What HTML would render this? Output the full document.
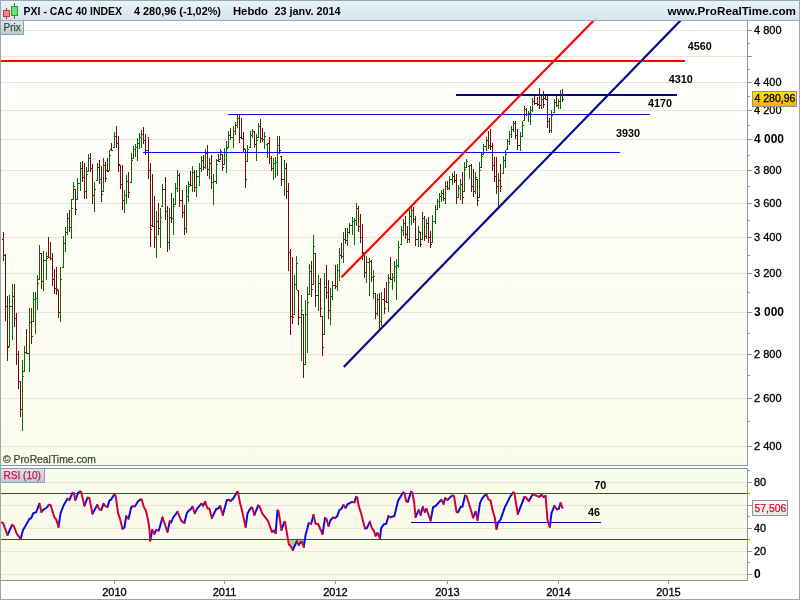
<!DOCTYPE html>
<html><head><meta charset="utf-8"><title>PXI - CAC 40 INDEX</title>
<style>html,body{margin:0;padding:0;background:#fff;}body{width:800px;height:600px;overflow:hidden;}svg{display:block;}text{font-family:"Liberation Sans", Arial, sans-serif;}text.n{stroke:#000;stroke-width:0.3px;}text.c{stroke:#33502e;stroke-width:0.25px;}text.r{stroke:#dc0a3a;stroke-width:0.25px;}</style>
</head><body>
<svg width="800" height="600" viewBox="0 0 800 600">
<defs>
<linearGradient id="hd" x1="0" y1="0" x2="0" y2="1"><stop offset="0" stop-color="#e9f5fb"/><stop offset="1" stop-color="#d3e2ec"/></linearGradient>
<linearGradient id="bg" x1="0" y1="0" x2="0" y2="1"><stop offset="0" stop-color="#ffffff"/><stop offset="1" stop-color="#fbfbec"/></linearGradient>
<linearGradient id="lb" x1="0" y1="0" x2="0" y2="1"><stop offset="0" stop-color="#dce8ee"/><stop offset="1" stop-color="#b8c8d1"/></linearGradient>
<linearGradient id="yl" x1="0" y1="0" x2="0" y2="1"><stop offset="0" stop-color="#ffe21a"/><stop offset="1" stop-color="#f2b200"/></linearGradient>
<linearGradient id="rl" x1="0" y1="0" x2="0" y2="1"><stop offset="0" stop-color="#fbfbf6"/><stop offset="1" stop-color="#ebebdf"/></linearGradient>
<clipPath id="cm"><rect x="1" y="21" width="746" height="444"/></clipPath>
<clipPath id="cr"><rect x="1" y="469" width="746" height="111"/></clipPath>
</defs>
<rect x="0" y="0" width="800" height="600" fill="#ffffff"/>
<rect x="0" y="0" width="800" height="21" fill="url(#hd)"/>
<rect x="0" y="0" width="800" height="1" fill="#97a6b1"/>
<rect x="0" y="20" width="800" height="1" fill="#9fabb3"/>
<rect x="1" y="21" width="747" height="445" fill="url(#bg)"/>
<rect x="1" y="446" width="747" height="1" fill="#e6e6da"/>
<rect x="1" y="398" width="747" height="1" fill="#e6e6da"/>
<rect x="1" y="354" width="747" height="1" fill="#e6e6da"/>
<rect x="1" y="312" width="747" height="1" fill="#e6e6da"/>
<rect x="1" y="273" width="747" height="1" fill="#e6e6da"/>
<rect x="1" y="237" width="747" height="1" fill="#e6e6da"/>
<rect x="1" y="203" width="747" height="1" fill="#e6e6da"/>
<rect x="1" y="170" width="747" height="1" fill="#e6e6da"/>
<rect x="1" y="139" width="747" height="1" fill="#e6e6da"/>
<rect x="1" y="110" width="747" height="1" fill="#e6e6da"/>
<rect x="1" y="82" width="747" height="1" fill="#e6e6da"/>
<rect x="1" y="56" width="747" height="1" fill="#e6e6da"/>
<rect x="1" y="30" width="747" height="1" fill="#e6e6da"/>
<rect x="1" y="468" width="747" height="113" fill="#fbfbec"/>
<rect x="1" y="574" width="747" height="1" fill="#e6e6da"/>
<rect x="1" y="551" width="747" height="1" fill="#e6e6da"/>
<rect x="1" y="528" width="747" height="1" fill="#e6e6da"/>
<rect x="1" y="505" width="747" height="1" fill="#e6e6da"/>
<rect x="1" y="482" width="747" height="1" fill="#e6e6da"/>
<g clip-path="url(#cm)">
<path d="M9.5 295V347M8 346.5h1M10 306.5h1M12.5 284V340M11 306.5h1M13 296.5h1M22.5 360V431M21 409.5h1M23 376.5h1M24.5 346V372M23 371.5h1M25 352.5h1M29.5 308V372M28 353.5h1M30 322.5h1M33.5 292V322M32 321.5h1M34 299.5h1M35.5 292V334M34 299.5h1M36 298.5h1M37.5 275V310M36 298.5h1M38 283.5h1M39.5 245V280M38 279.5h1M40 253.5h1M43.5 251V291M42 281.5h1M44 260.5h1M46.5 252V280M45 260.5h1M47 258.5h1M60.5 267V322M59 312.5h1M61 279.5h1M63.5 236V268M62 267.5h1M64 243.5h1M65.5 227V252M64 243.5h1M66 232.5h1M67.5 213V235M66 232.5h1M68 218.5h1M71.5 199V239M70 227.5h1M72 208.5h1M73.5 182V200M72 199.5h1M74 186.5h1M77.5 178V200M76 199.5h1M78 183.5h1M80.5 162V191M79 183.5h1M81 168.5h1M86.5 167V199M85 191.5h1M87 174.5h1M88.5 154V172M87 171.5h1M89 158.5h1M94.5 182V212M93 195.5h1M95 189.5h1M97.5 163V181M96 180.5h1M98 167.5h1M103.5 158V192M102 191.5h1M104 165.5h1M109.5 150V171M108 170.5h1M110 155.5h1M114.5 132V148M113 147.5h1M115 136.5h1M124.5 190V213M123 200.5h1M125 195.5h1M126.5 175V204M125 195.5h1M127 181.5h1M131.5 153V183M130 182.5h1M132 160.5h1M133.5 146V159M132 158.5h1M134 149.5h1M135.5 144V157M134 149.5h1M136 147.5h1M137.5 138V161M136 147.5h1M138 143.5h1M139.5 133V149M138 143.5h1M140 137.5h1M141.5 130V148M140 137.5h1M142 134.5h1M156.5 211V258M155 237.5h1M157 221.5h1M160.5 208V248M159 228.5h1M161 217.5h1M162.5 184V207M161 206.5h1M163 189.5h1M169.5 208V250M168 242.5h1M170 217.5h1M173.5 198V235M172 218.5h1M174 206.5h1M175.5 183V205M174 204.5h1M176 188.5h1M177.5 170V192M176 188.5h1M178 175.5h1M186.5 185V233M185 228.5h1M187 196.5h1M188.5 181V202M187 196.5h1M189 186.5h1M192.5 166V192M191 185.5h1M193 172.5h1M196.5 170V197M195 187.5h1M197 176.5h1M199.5 163V186M198 176.5h1M200 168.5h1M201.5 156V172M200 168.5h1M202 160.5h1M205.5 149V169M204 167.5h1M206 153.5h1M209.5 158V179M208 169.5h1M210 163.5h1M213.5 174V205M212 182.5h1M214 181.5h1M216.5 159V184M215 181.5h1M217 164.5h1M220.5 149V160M219 159.5h1M221 151.5h1M224.5 148V165M223 164.5h1M225 152.5h1M226.5 141V173M225 152.5h1M227 148.5h1M228.5 131V148M227 147.5h1M229 135.5h1M233.5 126V148M232 137.5h1M234 131.5h1M235.5 122V135M234 131.5h1M236 125.5h1M237.5 115V128M236 125.5h1M238 118.5h1M247.5 145V162M246 161.5h1M248 149.5h1M250.5 131V148M249 147.5h1M251 135.5h1M252.5 129V138M251 135.5h1M253 131.5h1M256.5 134V161M255 144.5h1M257 140.5h1M258.5 123V138M257 137.5h1M259 126.5h1M264.5 132V149M263 139.5h1M265 136.5h1M267.5 143V158M266 144.5h1M268 143.5h1M273.5 158V180M272 168.5h1M274 163.5h1M275.5 157V178M274 163.5h1M276 162.5h1M277.5 136V176M276 162.5h1M278 145.5h1M284.5 160V196M283 179.5h1M285 168.5h1M294.5 275V315M293 314.5h1M295 284.5h1M296.5 256V290M295 284.5h1M297 263.5h1M301.5 295V361M300 317.5h1M302 310.5h1M305.5 300V365M304 364.5h1M306 314.5h1M307.5 287V353M306 314.5h1M308 302.5h1M309.5 264V295M308 294.5h1M310 271.5h1M313.5 235V285M312 284.5h1M314 246.5h1M318.5 275V311M317 295.5h1M319 283.5h1M324.5 273V335M323 334.5h1M325 287.5h1M330.5 288V325M329 310.5h1M331 296.5h1M332.5 281V300M331 296.5h1M333 285.5h1M337.5 264V291M336 286.5h1M338 270.5h1M339.5 248V281M338 270.5h1M340 255.5h1M343.5 232V263M342 256.5h1M344 239.5h1M347.5 228V246M346 240.5h1M348 232.5h1M349.5 223V234M348 232.5h1M350 225.5h1M352.5 217V235M351 225.5h1M353 221.5h1M354.5 218V245M353 221.5h1M355 220.5h1M356.5 203V226M355 220.5h1M357 208.5h1M366.5 256V283M365 272.5h1M367 262.5h1M369.5 258V296M368 262.5h1M370 261.5h1M373.5 270V299M372 277.5h1M374 276.5h1M377.5 294V316M376 313.5h1M378 299.5h1M381.5 292V326M380 321.5h1M382 299.5h1M388.5 274V312M387 302.5h1M389 282.5h1M392.5 273V290M391 279.5h1M393 277.5h1M394.5 261V282M393 277.5h1M395 266.5h1M396.5 259V300M395 266.5h1M397 265.5h1M398.5 241V268M397 265.5h1M399 247.5h1M401.5 226V245M400 244.5h1M402 230.5h1M403.5 219V236M402 230.5h1M404 223.5h1M409.5 209V243M408 239.5h1M410 216.5h1M411.5 206V225M410 216.5h1M412 210.5h1M418.5 226V247M417 239.5h1M419 231.5h1M422.5 212V240M421 239.5h1M423 218.5h1M426.5 219V239M425 236.5h1M427 223.5h1M432.5 215V243M431 242.5h1M433 221.5h1M435.5 205V224M434 221.5h1M436 209.5h1M437.5 199V210M436 209.5h1M438 201.5h1M439.5 193V208M438 201.5h1M440 196.5h1M441.5 190V202M440 196.5h1M442 193.5h1M445.5 181V204M444 198.5h1M446 186.5h1M449.5 176V190M448 188.5h1M450 179.5h1M452.5 173V185M451 179.5h1M453 176.5h1M458.5 185V198M457 197.5h1M459 188.5h1M460.5 179V200M459 188.5h1M461 184.5h1M464.5 162V192M463 191.5h1M465 169.5h1M466.5 159V168M465 167.5h1M467 161.5h1M469.5 165V179M468 166.5h1M470 165.5h1M475.5 172V194M474 191.5h1M476 177.5h1M479.5 162V198M478 197.5h1M480 170.5h1M481.5 153V168M480 167.5h1M482 156.5h1M483.5 144V155M482 154.5h1M484 146.5h1M486.5 137V151M485 146.5h1M487 140.5h1M498.5 173V206M497 186.5h1M499 180.5h1M503.5 156V174M502 173.5h1M504 160.5h1M505.5 150V168M504 160.5h1M506 154.5h1M507.5 139V150M506 149.5h1M508 141.5h1M509.5 131V145M508 141.5h1M510 134.5h1M511.5 126V138M510 134.5h1M512 129.5h1M513.5 121V132M512 129.5h1M514 123.5h1M520.5 132V151M519 145.5h1M521 136.5h1M522.5 121V137M521 136.5h1M523 125.5h1M524.5 106V121M523 120.5h1M525 109.5h1M528.5 111V122M527 114.5h1M529 113.5h1M530.5 106V125M529 113.5h1M531 110.5h1M532.5 98V112M531 110.5h1M533 101.5h1M541.5 96V109M540 105.5h1M542 99.5h1M551.5 110V133M550 130.5h1M552 115.5h1M554.5 99V113M553 112.5h1M555 102.5h1M558.5 99V109M557 105.5h1M559 101.5h1M560.5 90V109M559 101.5h1M561 94.5h1" stroke="#0a6a0a" stroke-width="1" fill="none" shape-rendering="crispEdges"/>
<path d="M3.5 232V261M2 239.5h1M4 255.5h1M5.5 254V321M4 255.5h1M6 306.5h1M7.5 296V361M6 306.5h1M8 347.5h1M14.5 284V327M13 296.5h1M15 318.5h1M16.5 313V365M15 318.5h1M17 354.5h1M18.5 351V389M17 354.5h1M19 381.5h1M20.5 381V417M19 381.5h1M21 409.5h1M26.5 329V354M25 352.5h1M27 353.5h1M31.5 308V344M30 322.5h1M32 336.5h1M41.5 253V289M40 253.5h1M42 281.5h1M48.5 237V258M47 256.5h1M49 257.5h1M50.5 242V260M49 257.5h1M51 258.5h1M52.5 253V286M51 258.5h1M53 279.5h1M54.5 269V294M53 279.5h1M55 288.5h1M56.5 267V295M55 288.5h1M57 289.5h1M58.5 290V318M57 290.5h1M59 312.5h1M69.5 210V232M68 218.5h1M70 227.5h1M75.5 189V215M74 189.5h1M76 209.5h1M82.5 161V182M81 168.5h1M83 177.5h1M84.5 163V199M83 177.5h1M85 191.5h1M90.5 153V172M89 158.5h1M91 168.5h1M92.5 164V204M91 168.5h1M93 195.5h1M99.5 160V184M98 167.5h1M100 179.5h1M101.5 166V202M100 179.5h1M102 194.5h1M105.5 162V182M104 165.5h1M106 178.5h1M107.5 158V172M106 170.5h1M108 171.5h1M111.5 143V151M110 149.5h1M112 150.5h1M116.5 126V148M115 136.5h1M117 143.5h1M118.5 136V172M117 143.5h1M119 164.5h1M120.5 165V189M119 165.5h1M121 184.5h1M122.5 165V210M121 184.5h1M123 200.5h1M128.5 172V198M127 181.5h1M129 192.5h1M143.5 127V144M142 134.5h1M144 140.5h1M145.5 134V155M144 140.5h1M146 150.5h1M148.5 137V179M147 150.5h1M149 170.5h1M150.5 163V247M149 170.5h1M151 229.5h1M152.5 174V227M151 225.5h1M153 226.5h1M154.5 196V248M153 226.5h1M155 237.5h1M158.5 203V235M157 221.5h1M159 228.5h1M165.5 177V220M164 189.5h1M166 211.5h1M167.5 206V252M166 211.5h1M168 242.5h1M171.5 193V223M170 217.5h1M172 218.5h1M179.5 173V207M178 175.5h1M180 200.5h1M182.5 190V218M181 200.5h1M183 212.5h1M184.5 205V235M183 212.5h1M185 228.5h1M190.5 171V186M189 184.5h1M191 185.5h1M194.5 170V192M193 172.5h1M195 187.5h1M203.5 155V170M202 160.5h1M204 167.5h1M207.5 145V176M206 153.5h1M208 169.5h1M211.5 155V189M210 163.5h1M212 182.5h1M218.5 154V162M217 160.5h1M219 161.5h1M222.5 154V171M221 154.5h1M223 167.5h1M230.5 128V140M229 135.5h1M231 137.5h1M239.5 115V143M238 118.5h1M240 137.5h1M241.5 118V139M240 137.5h1M242 138.5h1M243.5 132V152M242 138.5h1M244 148.5h1M245.5 149V188M244 149.5h1M246 179.5h1M254.5 131V148M253 131.5h1M255 144.5h1M260.5 119V143M259 126.5h1M261 138.5h1M262.5 128V142M261 138.5h1M263 139.5h1M269.5 137V164M268 143.5h1M270 158.5h1M271.5 156V171M270 158.5h1M272 168.5h1M279.5 136V154M278 145.5h1M280 150.5h1M281.5 156V186M280 156.5h1M282 179.5h1M286.5 163V199M285 168.5h1M287 191.5h1M288.5 183V271M287 191.5h1M289 252.5h1M290.5 249V335M289 252.5h1M291 316.5h1M292.5 257V324M291 316.5h1M293 317.5h1M298.5 290V325M297 290.5h1M299 317.5h1M303.5 314V378M302 314.5h1M304 364.5h1M311.5 261V297M310 271.5h1M312 289.5h1M315.5 253V307M314 253.5h1M316 295.5h1M320.5 278V317M319 283.5h1M321 308.5h1M322.5 316V356M321 316.5h1M323 347.5h1M326.5 265V299M325 287.5h1M327 292.5h1M328.5 280V319M327 292.5h1M329 310.5h1M335.5 265V289M334 285.5h1M336 286.5h1M341.5 243V259M340 255.5h1M342 256.5h1M345.5 228V244M344 239.5h1M346 240.5h1M358.5 206V232M357 208.5h1M359 226.5h1M360.5 214V243M359 226.5h1M361 237.5h1M362.5 224V260M361 237.5h1M363 252.5h1M364.5 253V278M363 253.5h1M365 272.5h1M371.5 260V282M370 261.5h1M372 277.5h1M375.5 293V319M374 293.5h1M376 313.5h1M379.5 293V329M378 299.5h1M380 321.5h1M384.5 288V314M383 299.5h1M385 308.5h1M386.5 282V303M385 301.5h1M387 302.5h1M390.5 257V280M389 278.5h1M391 279.5h1M405.5 216V239M404 223.5h1M406 234.5h1M407.5 226V243M406 234.5h1M408 239.5h1M413.5 207V223M412 210.5h1M414 219.5h1M415.5 216V246M414 219.5h1M416 239.5h1M420.5 232V247M419 232.5h1M421 244.5h1M424.5 216V241M423 218.5h1M425 236.5h1M428.5 217V243M427 223.5h1M429 237.5h1M430.5 231V248M429 237.5h1M431 244.5h1M443.5 189V201M442 193.5h1M444 198.5h1M447.5 181V190M446 186.5h1M448 188.5h1M454.5 171V183M453 176.5h1M455 180.5h1M456.5 174V204M455 180.5h1M457 197.5h1M462.5 172V204M461 184.5h1M463 197.5h1M471.5 164V192M470 165.5h1M472 186.5h1M473.5 169V197M472 186.5h1M474 191.5h1M477.5 179V206M476 179.5h1M478 200.5h1M488.5 131V149M487 140.5h1M489 145.5h1M490.5 129V150M489 145.5h1M491 146.5h1M492.5 143V171M491 146.5h1M493 165.5h1M494.5 157V182M493 165.5h1M495 176.5h1M496.5 157V194M495 176.5h1M497 186.5h1M500.5 164V192M499 180.5h1M501 186.5h1M515.5 121V139M514 123.5h1M516 135.5h1M517.5 129V150M516 135.5h1M518 145.5h1M526.5 108V116M525 109.5h1M527 114.5h1M534.5 96V105M533 101.5h1M535 103.5h1M537.5 97V106M536 103.5h1M538 104.5h1M539.5 88V109M538 104.5h1M540 105.5h1M543.5 91V108M542 99.5h1M544 104.5h1M545.5 96V100M544 98.5h1M546 99.5h1M547.5 96V128M546 99.5h1M548 121.5h1M549.5 118V133M548 121.5h1M550 130.5h1M556.5 96V107M555 102.5h1M557 105.5h1M562.5 89V102M561 94.5h1M563 99.5h1" stroke="#750c10" stroke-width="1" fill="none" shape-rendering="crispEdges"/>
<rect x="143" y="152" width="477" height="1" fill="#0c0cf2"/>
<rect x="228" y="114" width="422" height="1" fill="#1616b4"/>
<rect x="456" y="94" width="221" height="2" fill="#08088c"/>
<rect x="1" y="60" width="684" height="2" fill="#ff0000"/>
<line x1="341.5" y1="277.25" x2="595" y2="19.2" stroke="#ff0000" stroke-width="2.2"/>
<line x1="343.75" y1="366.9" x2="682" y2="19" stroke="#08088c" stroke-width="2.2"/>
</g>
<g clip-path="url(#cr)">
<path d="M288 539.5 L288.8 544.4 L290.2 545.6 L292.8 550.0 L296.9 541.2 L298.8 545.0 L301.0 541.9 L301.9 541.9 L303.8 546.9 L305 539.5Z" fill="#a9cf96"/>
<rect x="1" y="493" width="747" height="1" fill="#3030d4"/>
<rect x="1" y="539" width="747" height="1" fill="#3030d4"/>
<rect x="411" y="522" width="190" height="1" fill="#08088c"/>
<path d="M7.5 535.0 L12.1 524.8M20.6 538.8 L23.1 530.0M23.1 530.0 L29.4 519.0M29.4 519.0 L31.2 518.1M31.2 518.1 L33.1 513.5M33.1 513.5 L36.2 512.2M36.2 512.2 L39.4 503.8M41.5 511.9 L43.1 510.0M43.1 510.0 L46.9 507.5M46.9 507.5 L48.8 504.8M58.5 526.9 L60.6 513.1M60.6 513.1 L63.8 505.0M63.8 505.0 L67.5 498.8M69.4 499.8 L72.5 492.8M75.4 500.0 L78.1 492.8M78.1 492.8 L80.0 491.5M84.4 505.6 L87.5 497.8M92.5 513.8 L97.2 505.0M101.2 510.0 L103.5 503.8M107.5 506.9 L109.4 500.6M109.4 500.6 L111.2 499.4M111.2 499.4 L114.4 494.4M122.5 528.8 L124.4 527.5M124.4 527.5 L126.2 516.2M128.5 518.8 L131.2 507.5M131.2 507.5 L132.5 506.2M135.0 506.2 L138.1 501.2M138.1 501.2 L140.6 499.4M150.2 540.6 L152.2 530.0M154.4 533.8 L156.2 530.0M158.8 530.6 L162.5 517.5M167.5 531.9 L169.8 521.2M171.2 522.5 L173.1 517.5M173.1 517.5 L177.5 511.9M184.4 523.1 L186.9 512.8M186.9 512.8 L189.4 510.0M190.0 510.0 L192.5 506.9M194.8 513.1 L197.5 508.1M197.5 508.1 L201.2 503.8M203.1 505.6 L205.2 501.9M211.9 518.1 L216.2 509.0M216.2 509.0 L218.1 508.5M218.1 508.5 L220.2 506.0M222.8 515.0 L226.9 500.0M226.9 500.0 L228.8 499.8M230.6 501.0 L233.1 498.8M233.1 498.8 L237.2 491.9M245.6 526.9 L247.5 513.8M247.5 513.8 L249.4 510.0M249.4 510.0 L251.5 507.5M254.4 515.0 L258.1 505.6M271.9 531.9 L273.8 530.6M275.6 533.1 L277.5 510.6M281.5 530.0 L284.4 521.9M292.8 550.0 L296.9 541.2M298.8 545.0 L301.0 541.9M303.8 546.9 L305.6 535.0M305.6 535.0 L308.8 523.1M311.2 523.8 L313.5 515.0M322.5 534.0 L325.0 518.1M328.5 526.0 L330.6 520.0M330.6 520.0 L333.1 517.5M335.0 518.1 L337.2 516.2M337.2 516.2 L339.4 510.0M339.4 510.0 L341.2 509.0M341.2 509.0 L343.5 505.0M345.6 507.8 L347.5 504.4M347.5 504.4 L351.9 501.9M354.4 502.2 L356.2 496.9M365.0 528.5 L366.9 528.1M366.9 528.1 L369.8 521.9M375.6 535.6 L377.5 533.1M380.0 538.1 L381.2 528.1M381.2 528.1 L383.8 524.4M383.8 524.4 L386.2 523.8M386.2 523.8 L388.5 516.0M390.6 517.2 L394.4 516.0M394.4 516.0 L398.1 500.6M398.1 500.6 L403.1 492.5M407.8 501.9 L411.0 491.9M415.6 516.9 L418.8 510.0M420.6 515.0 L422.8 506.9M424.8 511.9 L426.5 509.0M430.6 520.6 L433.1 507.2M433.1 507.2 L435.6 506.0M435.6 506.0 L441.2 499.8M443.5 503.8 L445.2 498.1M447.5 500.0 L451.9 495.6M458.1 512.2 L460.6 506.9M460.6 506.9 L462.5 506.5M462.5 506.5 L465.0 495.6M473.1 517.5 L475.6 511.9M477.5 520.0 L480.0 503.1M480.0 503.1 L481.9 498.8M481.9 498.8 L484.4 495.6M484.4 495.6 L486.5 494.8M496.5 529.0 L498.1 522.5M498.1 522.5 L500.6 519.4M500.6 519.4 L505.0 506.9M505.0 506.9 L510.0 496.9M510.0 496.9 L513.1 492.5M517.8 514.0 L524.4 496.9M528.8 501.0 L532.5 494.4M539.4 496.9 L541.5 494.8M543.5 496.9 L545.6 496.0M549.8 526.9 L551.5 513.1M551.5 513.1 L554.4 506.0M556.9 509.4 L558.8 508.8M558.8 508.8 L560.6 503.1" stroke="#0a0af0" stroke-width="2" fill="none" stroke-linecap="round"/>
<path d="M1.9 522.5 L3.1 523.1M3.1 523.1 L7.5 535.0M12.1 524.8 L13.8 526.2M13.8 526.2 L16.9 533.8M16.9 533.8 L20.6 538.8M39.4 503.8 L41.5 511.9M48.8 504.8 L50.6 505.0M50.6 505.0 L54.4 517.5M54.4 517.5 L56.2 519.4M56.2 519.4 L58.5 526.9M67.5 498.8 L69.4 499.8M72.5 492.8 L73.8 493.1M73.8 493.1 L75.4 500.0M80.0 491.5 L81.2 492.2M81.2 492.2 L84.4 505.6M87.5 497.8 L89.4 498.1M89.4 498.1 L92.5 513.8M97.2 505.0 L99.4 509.4M99.4 509.4 L101.2 510.0M103.5 503.8 L105.6 506.2M105.6 506.2 L107.5 506.9M114.4 494.4 L115.6 495.6M115.6 495.6 L118.1 513.1M118.1 513.1 L120.0 518.8M120.0 518.8 L122.5 528.8M126.2 516.2 L128.5 518.8M132.5 506.2 L135.0 506.2M140.6 499.4 L141.9 500.0M141.9 500.0 L143.8 506.9M143.8 506.9 L145.6 510.0M145.6 510.0 L148.1 520.0M148.1 520.0 L149.4 528.8M149.4 528.8 L150.2 540.6M152.2 530.0 L154.4 533.8M156.2 530.0 L158.8 530.6M162.5 517.5 L167.5 531.9M169.8 521.2 L171.2 522.5M177.5 511.9 L181.2 520.6M181.2 520.6 L184.4 523.1M189.4 510.0 L190.0 510.0M192.5 506.9 L194.8 513.1M201.2 503.8 L203.1 505.6M205.2 501.9 L207.5 508.5M207.5 508.5 L209.4 508.5M209.4 508.5 L211.9 518.1M220.2 506.0 L222.8 515.0M228.8 499.8 L230.6 501.0M237.2 491.9 L238.1 492.5M238.1 492.5 L240.0 503.1M240.0 503.1 L241.9 510.0M241.9 510.0 L245.6 526.9M251.5 507.5 L252.5 508.1M252.5 508.1 L254.4 515.0M258.1 505.6 L259.4 506.2M259.4 506.2 L262.5 513.8M262.5 513.8 L265.0 516.9M265.0 516.9 L268.1 521.2M268.1 521.2 L271.9 531.9M273.8 530.6 L275.6 533.1M277.5 510.6 L278.5 511.2M278.5 511.2 L281.5 530.0M284.4 521.9 L285.0 521.9M285.0 521.9 L288.8 544.4M288.8 544.4 L290.2 545.6M290.2 545.6 L292.8 550.0M296.9 541.2 L298.8 545.0M301.0 541.9 L301.9 541.9M301.9 541.9 L303.8 546.9M308.8 523.1 L311.2 523.8M313.5 515.0 L315.6 523.8M315.6 523.8 L318.1 524.0M318.1 524.0 L322.5 534.0M325.0 518.1 L326.5 518.8M326.5 518.8 L328.5 526.0M333.1 517.5 L335.0 518.1M343.5 505.0 L345.6 507.8M351.9 501.9 L354.4 502.2M356.2 496.9 L357.2 497.5M357.2 497.5 L358.8 506.2M358.8 506.2 L361.2 513.8M361.2 513.8 L365.0 528.5M369.8 521.9 L371.9 528.1M371.9 528.1 L373.8 530.6M373.8 530.6 L375.6 535.6M377.5 533.1 L379.8 538.1M379.8 538.1 L380.0 538.1M388.5 516.0 L390.6 517.2M403.1 492.5 L404.4 493.1M404.4 493.1 L406.2 501.2M406.2 501.2 L407.8 501.9M411.0 491.9 L412.2 492.5M412.2 492.5 L414.0 501.2M414.0 501.2 L415.6 516.9M418.8 510.0 L420.6 515.0M422.8 506.9 L424.8 511.9M426.5 509.0 L430.6 520.6M441.2 499.8 L443.5 503.8M445.2 498.1 L447.5 500.0M451.9 495.6 L454.0 496.0M454.0 496.0 L456.5 511.9M456.5 511.9 L458.1 512.2M465.0 495.6 L466.5 496.0M466.5 496.0 L469.8 506.2M469.8 506.2 L473.1 517.5M475.6 511.9 L476.0 512.5M476.0 512.5 L477.5 520.0M486.5 494.8 L488.5 499.4M488.5 499.4 L490.6 500.6M490.6 500.6 L492.5 510.0M492.5 510.0 L494.8 517.5M494.8 517.5 L496.5 529.0M513.1 492.5 L514.4 493.1M514.4 493.1 L516.2 504.4M516.2 504.4 L517.8 514.0M524.4 496.9 L525.6 497.2M525.6 497.2 L528.8 501.0M532.5 494.4 L536.2 495.6M536.2 495.6 L539.4 496.9M541.5 494.8 L543.5 496.9M545.6 496.0 L547.5 520.0M547.5 520.0 L549.8 526.9M554.4 506.0 L556.9 509.4M560.6 503.1 L562.5 507.8" stroke="#d2003a" stroke-width="2" fill="none" stroke-linecap="round"/>
</g>
<rect x="0" y="0" width="1" height="600" fill="#9aa7b0"/>
<rect x="799" y="0" width="1" height="600" fill="#9aa7b0"/>
<rect x="0" y="599" width="800" height="1" fill="#9aa7b0"/>
<rect x="747" y="21" width="1" height="445" fill="#8a98a2"/>
<rect x="1" y="465" width="747" height="1" fill="#8a98a2"/>
<rect x="1" y="468" width="747" height="1" fill="#8a98a2"/>
<rect x="747" y="468" width="1" height="113" fill="#8a98a2"/>
<rect x="1" y="580" width="747" height="1" fill="#8a98a2"/>
<rect x="748" y="446" width="4" height="1" fill="#8a98a2"/>
<rect x="748" y="421" width="2" height="1" fill="#8a98a2"/>
<rect x="748" y="398" width="4" height="1" fill="#8a98a2"/>
<rect x="748" y="375" width="2" height="1" fill="#8a98a2"/>
<rect x="748" y="354" width="4" height="1" fill="#8a98a2"/>
<rect x="748" y="333" width="2" height="1" fill="#8a98a2"/>
<rect x="748" y="312" width="4" height="1" fill="#8a98a2"/>
<rect x="748" y="292" width="2" height="1" fill="#8a98a2"/>
<rect x="748" y="273" width="4" height="1" fill="#8a98a2"/>
<rect x="748" y="255" width="2" height="1" fill="#8a98a2"/>
<rect x="748" y="237" width="4" height="1" fill="#8a98a2"/>
<rect x="748" y="220" width="2" height="1" fill="#8a98a2"/>
<rect x="748" y="203" width="4" height="1" fill="#8a98a2"/>
<rect x="748" y="186" width="2" height="1" fill="#8a98a2"/>
<rect x="748" y="170" width="4" height="1" fill="#8a98a2"/>
<rect x="748" y="155" width="2" height="1" fill="#8a98a2"/>
<rect x="748" y="139" width="4" height="1" fill="#8a98a2"/>
<rect x="748" y="125" width="2" height="1" fill="#8a98a2"/>
<rect x="748" y="110" width="4" height="1" fill="#8a98a2"/>
<rect x="748" y="96" width="2" height="1" fill="#8a98a2"/>
<rect x="748" y="82" width="4" height="1" fill="#8a98a2"/>
<rect x="748" y="69" width="2" height="1" fill="#8a98a2"/>
<rect x="748" y="56" width="4" height="1" fill="#8a98a2"/>
<rect x="748" y="43" width="2" height="1" fill="#8a98a2"/>
<rect x="748" y="30" width="4" height="1" fill="#8a98a2"/>
<text class="n" x="754" y="449.8" font-size="11" fill="#000">2 400</text>
<text class="n" x="754" y="401.8" font-size="11" fill="#000">2 600</text>
<text class="n" x="754" y="357.8" font-size="11" fill="#000">2 800</text>
<text x="754" y="315.7" font-size="12" font-weight="bold" fill="#000">3 000</text>
<text class="n" x="754" y="276.8" font-size="11" fill="#000">3 200</text>
<text class="n" x="754" y="240.8" font-size="11" fill="#000">3 400</text>
<text class="n" x="754" y="206.8" font-size="11" fill="#000">3 600</text>
<text class="n" x="754" y="173.8" font-size="11" fill="#000">3 800</text>
<text x="754" y="142.7" font-size="12" font-weight="bold" fill="#000">4 000</text>
<text class="n" x="754" y="113.8" font-size="11" fill="#000">4 200</text>
<text class="n" x="754" y="85.8" font-size="11" fill="#000">4 400</text>
<text class="n" x="754" y="33.8" font-size="11" fill="#000">4 800</text>
<rect x="748" y="574" width="4" height="1" fill="#8a98a2"/>
<rect x="748" y="562" width="2" height="1" fill="#8a98a2"/>
<rect x="748" y="551" width="4" height="1" fill="#8a98a2"/>
<rect x="748" y="539" width="2" height="1" fill="#8a98a2"/>
<rect x="748" y="528" width="4" height="1" fill="#8a98a2"/>
<rect x="748" y="516" width="2" height="1" fill="#8a98a2"/>
<rect x="748" y="505" width="4" height="1" fill="#8a98a2"/>
<rect x="748" y="493" width="2" height="1" fill="#8a98a2"/>
<rect x="748" y="482" width="4" height="1" fill="#8a98a2"/>
<rect x="748" y="470" width="2" height="1" fill="#8a98a2"/>
<text class="n" x="754" y="554.8" font-size="11" fill="#000">20</text>
<text class="n" x="754" y="531.8" font-size="11" fill="#000">40</text>
<text class="n" x="754" y="485.8" font-size="11" fill="#000">80</text>
<text x="754" y="577.7" font-size="12" font-weight="bold" fill="#000">0</text>
<rect x="752.5" y="91.5" width="44" height="15" fill="url(#yl)" stroke="#8595a0" stroke-width="1"/>
<text class="n" x="754.4" y="102.2" font-size="11" fill="#000" textLength="41" lengthAdjust="spacingAndGlyphs">4 280,96</text>
<rect x="752.5" y="500.5" width="35" height="15" fill="url(#rl)" stroke="#8595a0" stroke-width="1"/>
<text class="r" x="754.4" y="511.7" font-size="11" fill="#dc0a3a" textLength="32" lengthAdjust="spacingAndGlyphs">57,506</text>
<rect x="114" y="581" width="1" height="3" fill="#8a98a2"/>
<text class="n" x="114.5" y="595.6" font-size="11" fill="#000" text-anchor="middle">2010</text>
<rect x="224" y="581" width="1" height="3" fill="#8a98a2"/>
<text class="n" x="224.5" y="595.6" font-size="11" fill="#000" text-anchor="middle">2011</text>
<rect x="335" y="581" width="1" height="3" fill="#8a98a2"/>
<text class="n" x="335.5" y="595.6" font-size="11" fill="#000" text-anchor="middle">2012</text>
<rect x="447" y="581" width="1" height="3" fill="#8a98a2"/>
<text class="n" x="447.5" y="595.6" font-size="11" fill="#000" text-anchor="middle">2013</text>
<rect x="558" y="581" width="1" height="3" fill="#8a98a2"/>
<text class="n" x="558.5" y="595.6" font-size="11" fill="#000" text-anchor="middle">2014</text>
<rect x="668" y="581" width="1" height="3" fill="#8a98a2"/>
<text class="n" x="668.5" y="595.6" font-size="11" fill="#000" text-anchor="middle">2015</text>
<text x="687.8" y="50.0" font-size="10" font-weight="bold" fill="#000" textLength="24" lengthAdjust="spacingAndGlyphs">4560</text>
<text x="668.8" y="83.0" font-size="10" font-weight="bold" fill="#000" textLength="24" lengthAdjust="spacingAndGlyphs">4310</text>
<text x="648.0" y="106.8" font-size="10" font-weight="bold" fill="#000" textLength="24" lengthAdjust="spacingAndGlyphs">4170</text>
<text x="616.0" y="136.8" font-size="10" font-weight="bold" fill="#000" textLength="24" lengthAdjust="spacingAndGlyphs">3930</text>
<text x="594.2" y="488.8" font-size="10" font-weight="bold" fill="#000" textLength="12" lengthAdjust="spacingAndGlyphs">70</text>
<text x="588.0" y="515.8" font-size="10" font-weight="bold" fill="#000" textLength="12" lengthAdjust="spacingAndGlyphs">46</text>
<rect x="1" y="21" width="23" height="14" fill="url(#lb)"/>
<rect x="23" y="21" width="1" height="14" fill="#8e9ea8"/><rect x="1" y="34" width="23" height="1" fill="#8e9ea8"/>
<text class="c" x="3.6" y="31.3" font-size="10" fill="#2c4a3a" textLength="17.2" lengthAdjust="spacingAndGlyphs">Prix</text>
<rect x="1" y="469" width="44" height="14" fill="url(#lb)"/>
<rect x="44" y="469" width="1" height="14" fill="#8e9ea8"/><rect x="1" y="482" width="44" height="1" fill="#8e9ea8"/>
<text class="r" x="3.4" y="478.8" font-size="10" fill="#dc0a3a" textLength="37.6" lengthAdjust="spacingAndGlyphs">RSI (10)</text>
<text class="c" x="3" y="462.5" font-size="10" fill="#33502e" textLength="93" lengthAdjust="spacingAndGlyphs">© ProRealTime.com</text>
<rect x="6" y="8" width="1" height="11" fill="#b03030"/><rect x="3.5" y="10.5" width="6" height="6" fill="#f28a8a" stroke="#c23a3a" stroke-width="1"/>
<rect x="14" y="3" width="1" height="16" fill="#1c9a1c"/><rect x="11.5" y="6.5" width="6" height="9" fill="#6fe06f" stroke="#22a022" stroke-width="1"/>
<text x="23.6" y="14.6" font-size="11" font-weight="bold" fill="#000000" lengthAdjust="spacingAndGlyphs" textLength="98.4">PXI - CAC 40 INDEX</text>
<text x="134" y="14.6" font-size="11" font-weight="bold" fill="#000000" lengthAdjust="spacingAndGlyphs" textLength="87">4 280,96 (-1,02%)</text>
<text x="233" y="14.6" font-size="11" font-weight="bold" fill="#000000" lengthAdjust="spacingAndGlyphs" textLength="35">Hebdo</text>
<text x="274.4" y="14.6" font-size="11" font-weight="bold" fill="#000000" lengthAdjust="spacingAndGlyphs" textLength="66.2">23 janv. 2014</text>
<text x="667.4" y="14.6" font-size="11" font-weight="bold" fill="#000000" lengthAdjust="spacingAndGlyphs" textLength="128.6">www.ProRealTime.com</text>
</svg></body></html>
